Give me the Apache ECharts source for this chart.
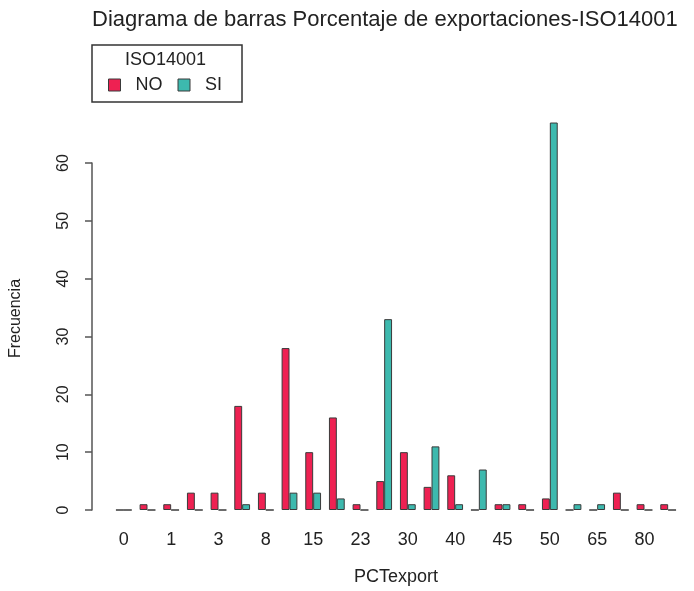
<!DOCTYPE html>
<html>
<head>
<meta charset="utf-8">
<script src="https://cdn.jsdelivr.net/npm/echarts@6/dist/echarts.min.js"></script>
<style>
  html, body { margin: 0; padding: 0; background: #fff; }
  #main { width: 694px; height: 591px; }
</style>
</head>
<body>
<div id="main"></div>
<script>
// PCTexport values (only every other one is labelled in the plot)
var categories = ['0', '0.5', '1', '2', '3', '5', '8', '10', '15', '20', '23', '25',
                  '30', '35', '40', '42', '45', '48', '50', '60', '65', '70', '80', '90'];
var noValues = [0, 1, 1, 3, 3, 18, 3, 28, 10, 16, 1, 5, 10, 4, 6, 0, 1, 1, 2, 0, 0, 3, 1, 1];
var siValues = [0, 0, 0, 0, 0, 1, 0, 3, 3, 2, 0, 33, 1, 11, 1, 7, 1, 0, 67, 1, 1, 0, 0, 0];
var yTicks = [0, 10, 20, 30, 40, 50, 60];

var font = 'Liberation Sans, Arial, sans-serif';
var border = '#3a3a3a';

var myChart = echarts.init(document.getElementById('main'));

var option = {
    backgroundColor: '#fff',
    animation: false,
    title: [{
        text: 'Diagrama de barras Porcentaje de exportaciones-ISO14001',
        left: 92,
        top: 9,
        padding: 0,
        textStyle: { fontFamily: font, fontSize: 22, fontWeight: 'normal', color: '#222' }
    }, {
        text: 'ISO14001',
        left: 125,
        top: 51,
        padding: 0,
        textStyle: { fontFamily: font, fontSize: 18, fontWeight: 'normal', color: '#222' }
    }],
    legend: {
        left: 92,
        top: 45,
        orient: 'horizontal',
        padding: [31, 20, 8, 16],
        borderColor: '#333',
        borderWidth: 1.5,
        itemWidth: 12,
        itemHeight: 12,
        itemGap: 15,
        icon: 'rect',
        textStyle: { fontFamily: font, fontSize: 18, color: '#222', padding: [0, 0, 0, 10] },
        data: [
            { name: 'NO', itemStyle: { color: '#EE2152', borderColor: border, borderWidth: 1 } },
            { name: 'SI', itemStyle: { color: '#3DB9AE', borderColor: border, borderWidth: 1 } }
        ]
    },
    grid: { left: 110, right: 14, top: 163, bottom: 80 },
    xAxis: {
        type: 'category',
        data: categories,
        name: 'PCTexport',
        nameLocation: 'middle',
        nameGap: 58,
        nameTextStyle: { fontFamily: font, fontSize: 18, color: '#222' },
        axisLine: { show: false },
        axisTick: { show: false },
        axisLabel: { interval: 1, margin: 21, fontFamily: font, fontSize: 18, color: '#222' }
    },
    yAxis: {
        type: 'value',
        min: yTicks[0],
        max: yTicks[yTicks.length - 1],
        interval: 10,
        offset: 20,
        name: 'Frecuencia',
        nameLocation: 'middle',
        nameGap: 68,
        nameTextStyle: { fontFamily: font, fontSize: 16, color: '#222', padding: [0, 0, 0, 36] },
        axisLine: { show: true, lineStyle: { color: '#555', width: 1.5 } },
        axisTick: { show: true, length: 7, lineStyle: { color: '#555', width: 1.5 } },
        splitLine: { show: false },
        axisLabel: { rotate: 90, margin: 20, fontFamily: font, fontSize: 16, color: '#222' }
    },
    series: [{
        name: 'NO',
        type: 'bar',
        data: noValues,
        clip: false,
        barGap: '0%',
        barCategoryGap: '33.3%',
        itemStyle: { color: '#EE2152', borderColor: border, borderWidth: 1 }
    }, {
        name: 'SI',
        type: 'bar',
        data: siValues,
        clip: false,
        barGap: '0%',
        barCategoryGap: '33.3%',
        itemStyle: { color: '#3DB9AE', borderColor: border, borderWidth: 1 }
    }]
};

myChart.setOption(option);
window.addEventListener('resize', function () {
    myChart.resize();
});
</script>
</body>
</html>
